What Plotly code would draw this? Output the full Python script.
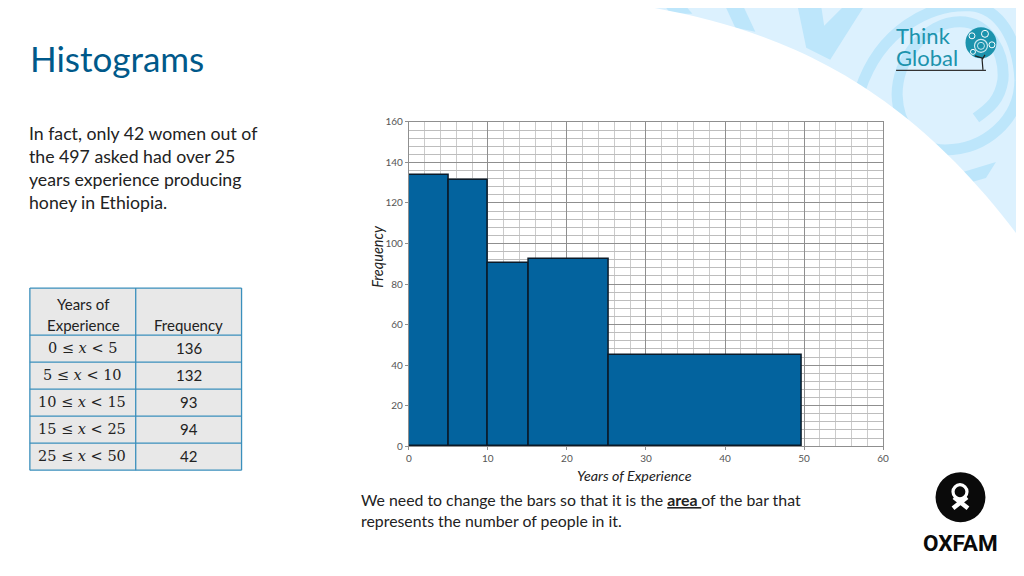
import plotly.graph_objects as go

# page frame as measured from the rendered picture
PW, PH = 1016.5, 563.5
OX, OY = 9.6, 14.2

# ---------- data ----------
bar_left = [0, 5, 10, 15.2, 25.3]
bar_width = [5, 5, 5.2, 10.1, 24.4]
bar_height = [134, 131.5, 90.5, 92.5, 45]
x_ticks = [0, 10, 20, 30, 40, 50, 60]
y_ticks = [0, 20, 40, 60, 80, 100, 120, 140, 160]
table_ranges = ["0 ≤ <i>x</i> &lt; 5", "5 ≤ <i>x</i> &lt; 10", "10 ≤ <i>x</i> &lt; 15",
                "15 ≤ <i>x</i> &lt; 25", "25 ≤ <i>x</i> &lt; 50"]
table_freq = [136, 132, 93, 94, 42]
intro_lines = ["In fact, only 42 women out of", "the 497 asked had over 25",
               "years experience producing", "honey in Ethiopia."]
note_lines = ["We need to change the bars so that it is the <b><u>area </u></b>of the bar that",
              "represents the number of people in it."]

FONT = "Lato"
BLUE_BG = "#dcf1fe"
SWIRL = "#bde6fb"
TEAL = "#1c93ad"
TBL_LINE = "#3a8fbc"
TXT = "#222222"


def fx(x):
    return (x - OX) / PW


def fy(y):
    return 1 - (y - OY) / PH


def path(s):
    out, nums = [], []
    for tok in s.split():
        if tok.isalpha():
            out.append(tok)
        else:
            nums.append(float(tok))
            if len(nums) == 2:
                out.append(f"{fx(nums[0]):.5f},{fy(nums[1]):.5f}")
                nums = []
    return " ".join(out)


def shp(s, fill=None, line=None, lw=0, layer="below"):
    d = dict(type="path", xref="paper", yref="paper", path=path(s), layer=layer,
             line=dict(width=lw, color=line or "rgba(0,0,0,0)"))
    if fill:
        d["fillcolor"] = fill
    return d


def circ(cx, cy, r, fill=None, line=None, lw=0):
    d = dict(type="circle", xref="paper", yref="paper", layer="above",
             x0=fx(cx - r), x1=fx(cx + r), y0=fy(cy + r), y1=fy(cy - r),
             line=dict(width=lw, color=line or "rgba(0,0,0,0)"))
    if fill:
        d["fillcolor"] = fill
    return d


shapes = [
    shp("M 600 0 L 1030 0 L 1030 260 L 600 260 Z", fill=BLUE_BG),
    shp("M 660 0 L 680 0 L 692 14 L 670 14 Z", fill=SWIRL),
    shp("M 722 0 L 740 0 L 755 32 L 735 28 Z", fill=SWIRL),
    shp("M 796 0 L 820 0 L 824 26 L 850 0 L 868 0 L 830 60 L 806 48 Z", fill=SWIRL),
    shp("M 860 90 C 880 30 930 4 970 6 C 1000 8 1018 40 1020 80 C 1020 120 985 150 945 150 "
        "C 915 150 898 125 897 95 C 897 60 925 22 960 22 C 990 22 1005 55 1003 80 "
        "C 1000 100 990 108 976 118", line=SWIRL, lw=11),
    shp("M 963 172 L 996 162 L 986 178 L 972 182 Z", fill=SWIRL),
    shp("M 600 0 C 760 20 900 70 1030 252 L 1030 580 L 0 580 L 0 0 Z", fill="#ffffff"),
    circ(981, 43, 15.5, fill=TEAL),
    circ(981, 46, 6.5, line="#cdeaf1", lw=1.2),
    circ(981, 46, 3.5, line="#cdeaf1", lw=1),
    circ(985, 34, 3.5, line="#ffffff", lw=1),
    circ(972, 36, 3, line="#ffffff", lw=1),
    circ(992, 45, 3, line="#ffffff", lw=1),
    circ(973, 52, 2.5, line="#ffffff", lw=1),
    shp("M 983 70 L 982 58 L 975 56 M 982 60 L 985 55", line="#222222", lw=1.2, layer="above"),
    shp("M 896 70.5 L 986 70.5", line="#333333", lw=1.2, layer="above"),
    circ(960.5, 497, 25, fill="#0a0a0a"),
    circ(960, 491.5, 7, line="#ffffff", lw=3.2),
    shp("M 954 497 L 968 508 M 967 497 L 953 508", line="#ffffff", lw=4.5, layer="above"),
]

annotations = [
    dict(text="Histograms", x=fx(28), y=fy(58), xanchor="left", yanchor="middle",
         font=dict(family=FONT, size=35, color="#00598a")),
    dict(text="<br>".join(intro_lines), x=fx(26.5), y=fy(122), xanchor="left", yanchor="top",
         align="left", font=dict(family=FONT, size=17.7, color=TXT)),
    dict(text="<br>".join(note_lines), x=fx(359), y=fy(488.5), xanchor="left", yanchor="top",
         align="left", font=dict(family=FONT, size=15.85, color=TXT)),
    dict(text="<i>Frequency</i>", x=fx(376), y=fy(256), textangle=-90, xanchor="center",
         yanchor="middle", font=dict(family=FONT, size=14.5, color=TXT)),
    dict(text="<i>Years of Experience</i>", x=fx(634), y=fy(475), xanchor="center",
         yanchor="middle", font=dict(family=FONT, size=14.3, color=TXT)),
    dict(text="Think", x=fx(895), y=fy(36), xanchor="left", yanchor="middle",
         font=dict(family=FONT, size=22, color=TEAL)),
    dict(text="Global", x=fx(895), y=fy(58), xanchor="left", yanchor="middle",
         font=dict(family=FONT, size=22, color=TEAL)),
    dict(text="<b>OXFAM</b>", x=fx(960.5), y=fy(543), xanchor="center", yanchor="middle",
         font=dict(family="Roboto", size=22.5, color="#0a0a0a")),
]

# ---------- table, drawn from the lists above ----------
col_edges = [28.5, 134.5, 240.5]
row_edges = [288, 335, 362, 389, 416, 443, 470]
shapes.append(dict(type="rect", xref="paper", yref="paper", layer="below",
                   x0=fx(col_edges[0]), x1=fx(col_edges[-1]), y0=fy(row_edges[-1]), y1=fy(row_edges[0]),
                   fillcolor="#e8e8e8", line=dict(width=0)))
for yy in row_edges:
    shapes.append(dict(type="line", xref="paper", yref="paper", layer="below",
                       x0=fx(col_edges[0]), x1=fx(col_edges[-1]), y0=fy(yy), y1=fy(yy),
                       line=dict(color=TBL_LINE, width=1.3)))
for xx in col_edges:
    shapes.append(dict(type="line", xref="paper", yref="paper", layer="below",
                       x0=fx(xx), x1=fx(xx), y0=fy(row_edges[0]), y1=fy(row_edges[-1]),
                       line=dict(color=TBL_LINE, width=1.3)))
col_mid = [(col_edges[0] + col_edges[1]) / 2 + 0.5, (col_edges[1] + col_edges[2]) / 2]
annotations += [
    dict(text="Years of", x=fx(col_mid[0]), y=fy(304), xanchor="center", yanchor="middle",
         font=dict(family=FONT, size=15, color=TXT)),
    dict(text="Experience", x=fx(col_mid[0]), y=fy(325), xanchor="center", yanchor="middle",
         font=dict(family=FONT, size=15, color=TXT)),
    dict(text="Frequency", x=fx(col_mid[1]), y=fy(325), xanchor="center", yanchor="middle",
         font=dict(family=FONT, size=15, color=TXT)),
]
for i, (rng, freq) in enumerate(zip(table_ranges, table_freq)):
    yc = (row_edges[i + 1] + row_edges[i + 2]) / 2 - 0.5
    annotations.append(dict(text=rng, x=fx(col_mid[0] - 1), y=fy(yc), xanchor="center", yanchor="middle",
                            font=dict(family="DejaVu Serif", size=14.5, color=TXT)))
    annotations.append(dict(text=str(freq), x=fx(col_mid[1]), y=fy(yc), xanchor="center", yanchor="middle",
                            font=dict(family=FONT, size=15, color=TXT)))

for a in annotations:
    a.update(xref="paper", yref="paper", showarrow=False, borderpad=0)

fig = go.Figure()
fig.add_trace(go.Bar(x=bar_left, y=bar_height, width=bar_width, offset=0,
                     marker=dict(color="#03639e", line=dict(color="#0b1a28", width=1.5)),
                     showlegend=False))

tickfont = dict(family=FONT, size=10, color="#555555")
axis_common = dict(tickmode="array", tickfont=tickfont, showgrid=True, gridcolor="#8f8f8f", gridwidth=1,
                   zeroline=False, showline=True, linecolor="#8f8f8f", mirror=True,
                   ticks="outside", ticklen=3, tickcolor="#8f8f8f")
fig.update_layout(
    width=1024, height=576, autosize=False,
    margin=dict(l=0, r=0, t=0, b=0),
    paper_bgcolor="#ffffff", plot_bgcolor="#ffffff",
    shapes=shapes, annotations=annotations, bargap=0,
    xaxis=dict(domain=[fx(408), fx(883)], range=[0, 60], tickvals=x_ticks,
               minor=dict(dtick=2, showgrid=True, gridcolor="#cbcbcb", gridwidth=1), **axis_common),
    yaxis=dict(domain=[fy(446), fy(122)], range=[0, 160], tickvals=y_ticks,
               minor=dict(dtick=4, showgrid=True, gridcolor="#bdbdbd", gridwidth=1), **axis_common),
)

fig.write_html("out.html", config=dict(displayModeBar=False))
